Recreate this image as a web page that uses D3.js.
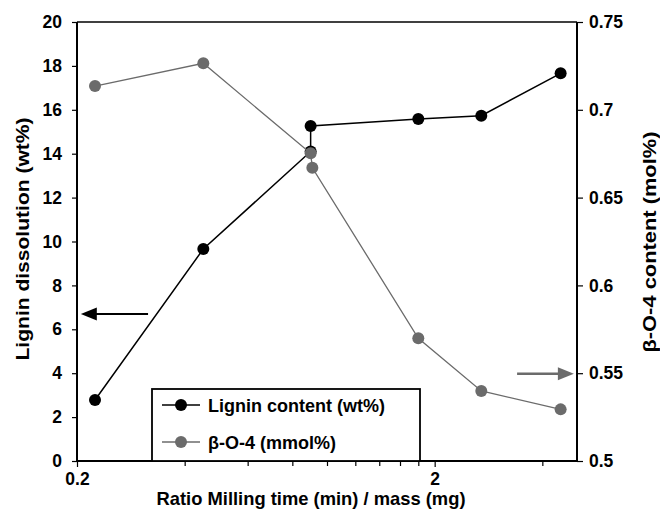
<!DOCTYPE html>
<html>
<head>
<meta charset="utf-8">
<script src="https://cdn.jsdelivr.net/npm/d3@7"></script>
<style>
  body { margin: 0; background: #fff; }
  text { font-family: "Liberation Sans", Arial, sans-serif; font-weight: bold; fill: #000; }
</style>
</head>
<body>
<div id="container"></div>
<script>
// values
const ligninRatio = [0.2246, 0.451, 0.9, 0.9, 1.8, 2.7, 4.5];
const ligninContent = [2.78, 9.66, 14.1, 15.26, 15.58, 15.73, 17.66];
const betaRatio = [0.2246, 0.451, 0.9, 0.91, 1.8, 2.7, 4.5];
const betaContent = [0.7135, 0.7265, 0.6752, 0.667, 0.5699, 0.5399, 0.5294];

const leftTicks = [0, 2, 4, 6, 8, 10, 12, 14, 16, 18, 20];
const rightTicks = [0.5, 0.55, 0.6, 0.65, 0.7, 0.75];
const rightTickLabels = ["0.5", "0.55", "0.6", "0.65", "0.7", "0.75"];
const xMajorTicks = [0.2, 2];
const xMinorTicks = [0.4, 0.6, 0.8, 1.0, 1.2, 1.4, 1.6, 1.8, 4];
const legendLabels = ["Lignin content (wt%)", "β-O-4 (mmol%)"];

const grey = "#6b6b6b";

let margin = {top: 22, right: 83, bottom: 56, left: 77},
    width = 660 - margin.left - margin.right,
    height = 517 - margin.top - margin.bottom;

let svg = d3.select("#container")
  .append("svg")
    .attr("width", 660)
    .attr("height", 517);

let graph = svg.append("g")
    .attr("transform", "translate(" + margin.left + "," + margin.top + ")");

let xScale = d3.scaleLog().domain([0.2, 5]).range([0, width]);
let yLeft = d3.scaleLinear().domain([0, 20]).range([height, 0]);
let yRight = d3.scaleLinear().domain([0.5, 0.75]).range([height, 0]);

// frame (top line)
graph.append("line")
  .attr("x1", 0).attr("x2", width).attr("y1", 0).attr("y2", 0)
  .attr("stroke", "#000").attr("stroke-width", 1.5);

// axes
let leftAxis = graph.append("g")
  .call(d3.axisLeft(yLeft).tickValues(leftTicks).tickSize(5).tickPadding(10).tickFormat(d3.format("d")));

let rightAxis = graph.append("g")
  .attr("transform", "translate(" + width + ",0)")
  .call(d3.axisRight(yRight).tickValues(rightTicks).tickSize(6).tickPadding(6)
    .tickFormat((d, i) => rightTickLabels[i]));

let xAxis = graph.append("g")
  .attr("transform", "translate(0," + height + ")")
  .call(d3.axisBottom(xScale).tickValues(xMajorTicks).tickSize(6).tickPadding(6).tickFormat(d => String(d)));

graph.append("g")
  .attr("transform", "translate(0," + height + ")")
  .call(d3.axisBottom(xScale).tickValues(xMinorTicks).tickSize(5).tickFormat(""))
  .select(".domain").remove();

graph.selectAll(".domain").attr("stroke-width", 2).attr("stroke", "#000");
graph.selectAll(".tick line").attr("stroke", "#000").attr("stroke-width", 1.2);
graph.selectAll(".tick text").style("font-size", "17.5px").style("font-family", "Liberation Sans, Arial, sans-serif").attr("font-weight", "bold");
// no outer ticks on the domain lines
leftAxis.select(".domain").attr("d", "M0," + height + "V0");
rightAxis.select(".domain").attr("d", "M0," + height + "V0");
xAxis.select(".domain").attr("d", "M0,0H" + width);

// series
let ligninPts = ligninRatio.map((r, i) => [xScale(r), yLeft(ligninContent[i])]);
let betaPts = betaRatio.map((r, i) => [xScale(r), yRight(betaContent[i])]);

graph.append("path")
  .attr("d", d3.line()(ligninPts))
  .attr("fill", "none").attr("stroke", "#000").attr("stroke-width", 1.5);
graph.selectAll(".lig").data(ligninPts).enter().append("circle")
  .attr("cx", d => d[0]).attr("cy", d => d[1]).attr("r", 6).attr("fill", "#000");

graph.append("path")
  .attr("d", d3.line()(betaPts))
  .attr("fill", "none").attr("stroke", grey).attr("stroke-width", 1.3);
graph.selectAll(".beta").data(betaPts).enter().append("circle")
  .attr("cx", d => d[0]).attr("cy", d => d[1]).attr("r", 6).attr("fill", grey);

// arrows pointing to the axes
function arrow(x1, x2, y, color, w) {
  let dir = x2 > x1 ? 1 : -1;
  graph.append("line")
    .attr("x1", x1).attr("x2", x2 - dir * 14).attr("y1", y).attr("y2", y)
    .attr("stroke", color).attr("stroke-width", w);
  graph.append("path")
    .attr("d", "M" + x2 + "," + y + "L" + (x2 - dir * 16) + "," + (y - 6.5) + "L" + (x2 - dir * 16) + "," + (y + 6.5) + "Z")
    .attr("fill", color);
}
arrow(xScale(0.316), xScale(0.205), yLeft(6.7), "#000", 2);
arrow(xScale(3.4), xScale(4.9), yRight(0.5497), grey, 2.6);

// legend
let lg = graph.append("g").attr("transform", "translate(" + (152 - margin.left) + "," + (389 - margin.top) + ")");
lg.append("rect")
  .attr("width", 268).attr("height", 461 - 389)
  .attr("fill", "#fff").attr("stroke", "#000").attr("stroke-width", 1.8);
let legendColors = ["#000", grey];
legendLabels.forEach((lab, i) => {
  let yy = 16 + i * 37;
  lg.append("line").attr("x1", 10).attr("x2", 48).attr("y1", yy).attr("y2", yy)
    .attr("stroke", legendColors[i]).attr("stroke-width", i ? 1.3 : 1.5);
  lg.append("circle").attr("cx", 29).attr("cy", yy).attr("r", 6).attr("fill", legendColors[i]);
  lg.append("text").attr("x", 56).attr("y", yy + 7).style("font-size", "18px").text(lab);
});

// axis titles
svg.append("text")
  .attr("transform", "translate(29,239) rotate(-90)")
  .attr("text-anchor", "middle").style("font-size", "19px")
  .attr("textLength", 243).attr("lengthAdjust", "spacingAndGlyphs")
  .text("Lignin dissolution (wt%)");

svg.append("text")
  .attr("transform", "translate(656,242) rotate(-90)")
  .attr("text-anchor", "middle").style("font-size", "19px")
  .attr("textLength", 221).attr("lengthAdjust", "spacingAndGlyphs")
  .text("β-O-4 content (mol%)");

svg.append("text")
  .attr("x", 311).attr("y", 505)
  .attr("text-anchor", "middle").style("font-size", "19px")
  .attr("textLength", 309).attr("lengthAdjust", "spacingAndGlyphs")
  .text("Ratio Milling time (min) / mass (mg)");
</script>
</body>
</html>
